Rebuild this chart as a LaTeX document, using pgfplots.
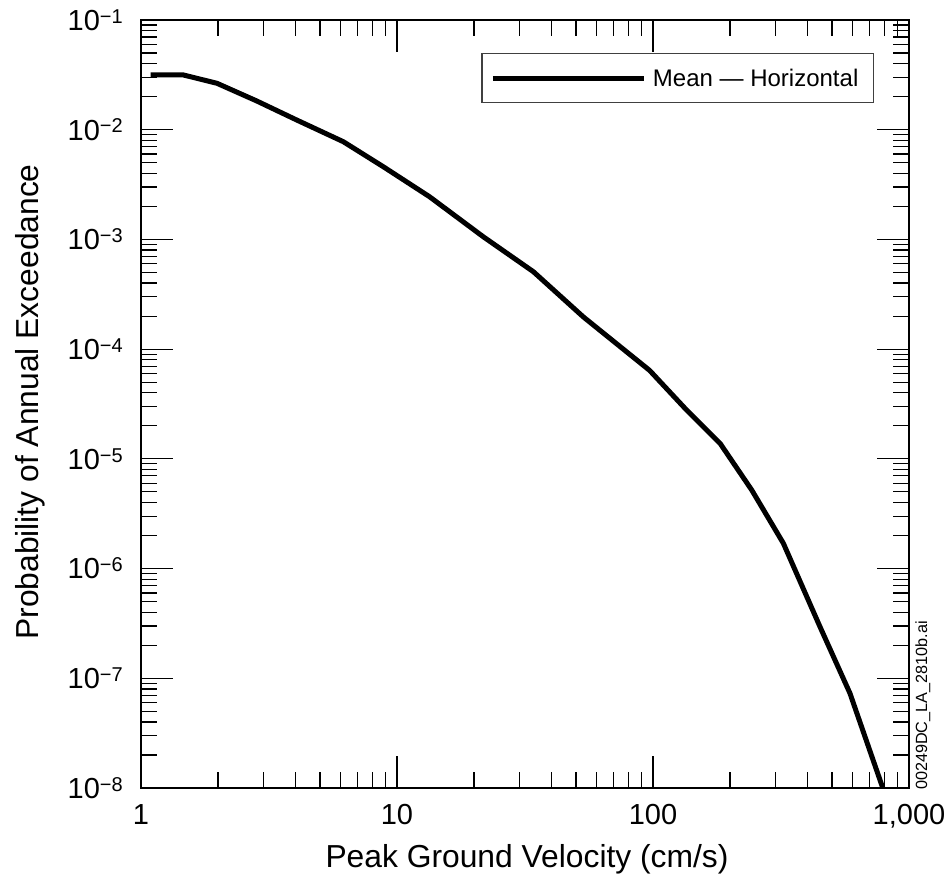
\documentclass[border=0pt]{standalone}
\usepackage{fontspec}
\setmainfont{Liberation Sans}
\usepackage{pgfplots}
\pgfplotsset{compat=1.18}
\newcommand\sus[1]{\raisebox{0.25em}{\fontsize{20}{20}\selectfont #1}}
\begin{document}
\begin{tikzpicture}[x=1pt,y=1pt]
\path[use as bounding box] (0,0) rectangle (946,882);
\begin{axis}[
  at={(141pt,94pt)}, anchor=south west,
  scale only axis, width=768pt, height=768pt,
  xmode=log, ymode=log,
  xmin=1, xmax=1000, ymin=1e-8, ymax=1e-1,
  tick align=inside,
  major tick length=32pt, minor tick length=16pt,
  axis line style={line width=2pt},
  every tick/.style={black, line width=1.2pt},
  xtick={1,10,100,1000}, xticklabels={1,10,100,{1,000}},
  minor xtick={2,3,4,5,6,7,8,9,20,30,40,50,60,70,80,90,200,300,400,500,600,700,800,900},
  ytick={1e-8,1e-7,1e-6,1e-5,1e-4,1e-3,1e-2,1e-1},
  yticklabels={10\sus{−8},10\sus{−7},10\sus{−6},10\sus{−5},10\sus{−4},10\sus{−3},10\sus{−2},10\sus{−1}},
  minor ytick={2e-8,3e-8,4e-8,5e-8,6e-8,7e-8,8e-8,9e-8,
               2e-7,3e-7,4e-7,5e-7,6e-7,7e-7,8e-7,9e-7,
               2e-6,3e-6,4e-6,5e-6,6e-6,7e-6,8e-6,9e-6,
               2e-5,3e-5,4e-5,5e-5,6e-5,7e-5,8e-5,9e-5,
               2e-4,3e-4,4e-4,5e-4,6e-4,7e-4,8e-4,9e-4,
               2e-3,3e-3,4e-3,5e-3,6e-3,7e-3,8e-3,9e-3,
               2e-2,3e-2,4e-2,5e-2,6e-2,7e-2,8e-2,9e-2},
  tick label style={font=\fontsize{29}{32}\selectfont},
  xticklabel style={anchor=base, inner sep=0pt, yshift=-36pt},
  yticklabel style={anchor=base east, inner sep=0pt, xshift=-18pt, yshift=-10.4pt},
  xlabel={Peak Ground Velocity (cm/s)},
  ylabel={Probability of Annual Exceedance},
  label style={font=\fontsize{31.8}{36}\selectfont},
  xlabel style={at={(axis description cs:0.5026,-0.104)}, anchor=base, inner sep=0pt},
  ylabel style={at={(axis description cs:-0.134,0.5026)}, anchor=base, inner sep=0pt},
  legend style={at={(rel axis cs:0.9544,0.957)}, anchor=north east,
    draw=black!75, line width=1.2pt, fill=white,
    inner xsep=8.5pt, inner ysep=9pt,
    font=\fontsize{24}{28}\selectfont,
    nodes={inner xsep=6.5pt, inner ysep=6pt}},
  legend image code/.code={\draw[line width=5pt, black] (0pt,0pt) -- (151pt,0pt);},
]
\addplot[black, line width=5pt, line join=round] table {
x y
1.09 0.0316
1.46 0.0316
1.98 0.0265
2.83 0.0183
4.06 0.01225
6.17 0.00778
8.84 0.0046
13.4 0.00245
21.7 0.00106
34.1 5.08e-4
53.4 1.97e-4
97 6.4e-5
135 2.8e-5
183 1.38e-5
243 5.2e-6
323 1.70e-6
449 2.95e-7
588 7.3e-8
790 1.0e-8
};
\addlegendentry{Mean — Horizontal}
\end{axis}
\node[rotate=90, anchor=base west, inner sep=0pt, font=\fontsize{16.2}{18}\selectfont] at (927,92) {00249DC\_LA\_2810b.ai};
\end{tikzpicture}
\end{document}
